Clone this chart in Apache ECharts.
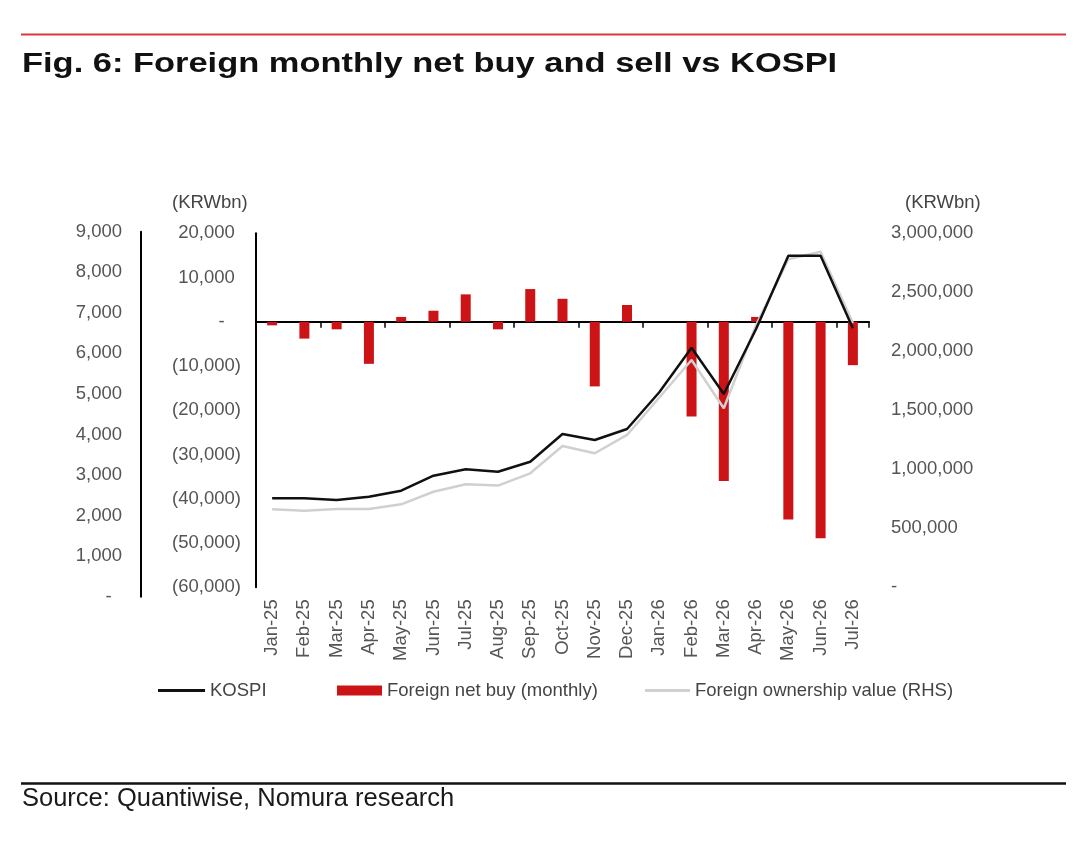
<!DOCTYPE html>
<html>
<head>
<meta charset="utf-8">
<title>Foreign monthly net buy and sell vs KOSPI</title>
<script src="https://cdn.jsdelivr.net/npm/echarts@6/dist/echarts.min.js"></script>
<style>
  html, body { margin: 0; padding: 0; background: #fff; }
  #chart { width: 1080px; height: 844px; }
</style>
</head>
<body>
<div id="chart"></div>
<script>
// data
const months = ['Jan-25', 'Feb-25', 'Mar-25', 'Apr-25', 'May-25', 'Jun-25', 'Jul-25', 'Aug-25', 'Sep-25', 'Oct-25',
                'Nov-25', 'Dec-25', 'Jan-26', 'Feb-26', 'Mar-26', 'Apr-26', 'May-26', 'Jun-26', 'Jul-26'];
// KOSPI index level (outer left axis)
const kospi = [2426, 2426, 2384, 2466, 2614, 2984, 3141, 3082, 3329, 4011,
               3863, 4134, 5040, 6139, 4998, 6600, 8407, 8407, 6617];
// foreign net buy, KRWbn (inner left axis)
const netBuy = [-800, -3800, -1700, -9500, 1100, 2500, 6200, -1700, 7400, 5200,
                -14600, 3800, 0, -21400, -36000, 1100, -44700, -48900, -9800];
// foreign ownership value, KRWbn (right axis)
const ownership = [661000, 649000, 664000, 664000, 703000, 810000, 873000, 862000, 966000, 1197000,
                   1136000, 1291000, 1608000, 1926000, 1517000, 2223000, 2780000, 2844000, 2240000];

const FONT = '"Liberation Sans", Arial, Helvetica, sans-serif';
const GREY = '#555555';
const RED = '#cc1417';
const FS = 18.5;

function commas(v) {
    return String(Math.abs(v)).replace(/\B(?=(\d{3})+(?!\d))/g, ',');
}

const hidden = { color: 'rgba(0,0,0,0)', fontSize: FS, fontFamily: FONT };
const labelStyle = { fontSize: FS, color: GREY, fontFamily: FONT };

const chart = echarts.init(document.getElementById('chart'));

const option = {
    animation: false,
    backgroundColor: '#fff',
    grid: [
        { left: 256, right: 211, top: 233.3, bottom: 256.7 },
        { left: 256, right: 211, top: 231.7, bottom: 247.3 }
    ],
    xAxis: [
        {
            type: 'category', gridIndex: 0, data: months, position: 'bottom',
            axisLine: { onZero: true, onZeroAxisIndex: 0, lineStyle: { color: '#000', width: 2 } },
            axisTick: { show: true, length: 6, lineStyle: { color: '#000', width: 1.5 } },
            axisLabel: { show: false }
        },
        {
            type: 'category', gridIndex: 0, data: months, position: 'bottom',
            axisLine: { show: false, onZero: false },
            axisTick: { show: false },
            axisLabel: Object.assign({ rotate: 90, interval: 0, margin: 12 }, labelStyle)
        },
        { type: 'category', gridIndex: 1, data: months, show: false }
    ],
    yAxis: [
        {
            type: 'value', gridIndex: 0, position: 'left',
            min: -60000, max: 20000, interval: 10000,
            axisLine: { show: true, lineStyle: { color: '#000', width: 2 } },
            axisTick: { show: false },
            splitLine: { show: false },
            axisLabel: Object.assign({
                margin: 15,
                formatter: function (v) {
                    if (v === 0) return '-{h|0)}';
                    if (v < 0) return '(' + commas(v) + ')';
                    return commas(v) + '{h|)}';
                },
                rich: { h: hidden }
            }, labelStyle)
        },
        {
            type: 'value', gridIndex: 0, position: 'right',
            min: 0, max: 3000000, interval: 500000,
            axisLine: { show: false },
            axisTick: { show: false },
            splitLine: { show: false },
            axisLabel: Object.assign({
                margin: 22,
                formatter: function (v) { return v === 0 ? '-' : commas(v); }
            }, labelStyle)
        },
        {
            type: 'value', gridIndex: 1, position: 'left', offset: 115,
            min: 0, max: 9000, interval: 1000,
            axisLine: { show: true, lineStyle: { color: '#000', width: 2 } },
            axisTick: { show: false },
            splitLine: { show: false },
            axisLabel: Object.assign({
                margin: 19,
                formatter: function (v) { return v === 0 ? '-{h|0}' : commas(v); },
                rich: { h: hidden }
            }, labelStyle)
        }
    ],
    legend: [
        {
            data: [{ name: 'KOSPI', icon: 'rect' }],
            left: 158, top: 681, padding: 0, itemWidth: 47, itemHeight: 3,
            textStyle: { fontSize: FS, color: '#444', fontFamily: FONT }
        },
        {
            data: [{ name: 'Foreign net buy (monthly)', icon: 'rect' }],
            left: 337, top: 681, padding: 0, itemWidth: 45, itemHeight: 10,
            textStyle: { fontSize: FS, color: '#444', fontFamily: FONT }
        },
        {
            data: [{ name: 'Foreign ownership value (RHS)', icon: 'rect' }],
            left: 645, top: 681, padding: 0, itemWidth: 45, itemHeight: 3,
            textStyle: { fontSize: FS, color: '#444', fontFamily: FONT }
        }
    ],
    series: [
        {
            name: 'Foreign net buy (monthly)', type: 'bar',
            xAxisIndex: 0, yAxisIndex: 0, data: netBuy,
            barWidth: 10, itemStyle: { color: RED }, z: 2
        },
        {
            name: 'Foreign ownership value (RHS)', type: 'line',
            xAxisIndex: 0, yAxisIndex: 1, data: ownership,
            symbol: 'none', itemStyle: { color: '#d0d0d0' },
            lineStyle: { color: '#d0d0d0', width: 2.5 }, z: 3
        },
        {
            name: 'KOSPI', type: 'line',
            xAxisIndex: 2, yAxisIndex: 2, data: kospi,
            symbol: 'none', itemStyle: { color: '#111' },
            lineStyle: { color: '#111', width: 2.5 }, z: 4
        }
    ],
    graphic: [
        { type: 'line', shape: { x1: 21, y1: 34.5, x2: 1066, y2: 34.5 }, style: { stroke: '#d7373d', lineWidth: 2 } },
        {
            type: 'text', x: 22, y: 64, scaleX: 1.23,
            style: { text: 'Fig. 6: Foreign monthly net buy and sell vs KOSPI', fill: '#111',
                     font: 'bold 28px ' + FONT, verticalAlign: 'middle' }
        },
        {
            type: 'text', x: 172, y: 203,
            style: { text: '(KRWbn)', fill: '#444', font: FS + 'px ' + FONT, verticalAlign: 'middle' }
        },
        {
            type: 'text', x: 905, y: 203,
            style: { text: '(KRWbn)', fill: '#444', font: FS + 'px ' + FONT, verticalAlign: 'middle' }
        },
        { type: 'line', shape: { x1: 21, y1: 783.5, x2: 1066, y2: 783.5 }, style: { stroke: '#111', lineWidth: 2.5 } },
        {
            type: 'text', x: 22, y: 799,
            style: { text: 'Source: Quantiwise, Nomura research', fill: '#1a1a1a',
                     font: '25.5px ' + FONT, verticalAlign: 'middle' }
        }
    ]
};

chart.setOption(option);
</script>
</body>
</html>
